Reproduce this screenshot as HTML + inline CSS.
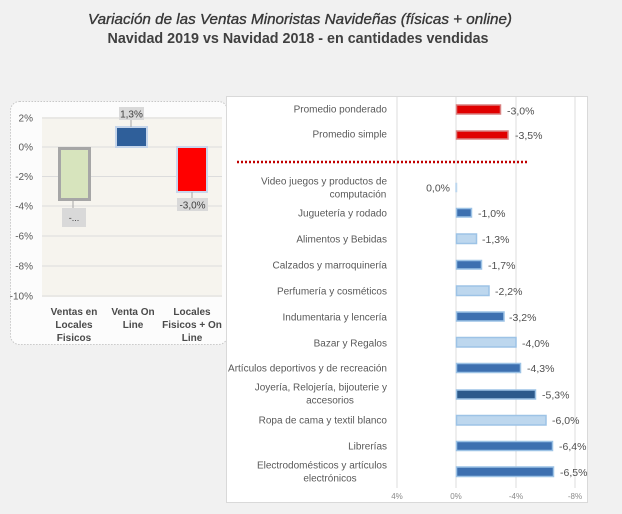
<!DOCTYPE html>
<html><head><meta charset="utf-8"><style>
html,body{margin:0;padding:0;background:#f1f1f1;}
svg{display:block;}
text{font-family:"Liberation Sans",sans-serif;}
</style></head><body>
<svg width="622" height="514" viewBox="0 0 622 514" xmlns="http://www.w3.org/2000/svg">
<rect width="622" height="514" fill="#f1f1f1"/>
<!-- Titles -->
<text x="300" y="24" text-anchor="middle" font-size="15" font-style="italic" fill="#383838" stroke="#383838" stroke-width="0.35" textLength="424" lengthAdjust="spacingAndGlyphs">Variación de las Ventas Minoristas Navideñas (físicas + online)</text>
<text x="298" y="43" text-anchor="middle" font-size="15" font-weight="bold" fill="#404040" textLength="381" lengthAdjust="spacingAndGlyphs">Navidad 2019 vs Navidad 2018 - en cantidades vendidas</text>

<!-- Left panel -->
<rect x="10.5" y="101.5" width="217" height="243" rx="9" ry="9" fill="#fcfcfc" stroke="#c8c8c8" stroke-dasharray="1.5,1.5"/>
<rect x="42" y="117" width="180" height="180" fill="#f6f4ee"/>
<g stroke="#dcdcdc" stroke-width="1">
<line x1="42" y1="118" x2="222" y2="118"/>
<line x1="42" y1="147" x2="222" y2="147"/>
<line x1="42" y1="176.5" x2="222" y2="176.5"/>
<line x1="42" y1="206" x2="222" y2="206"/>
<line x1="42" y1="236" x2="222" y2="236"/>
<line x1="42" y1="266" x2="222" y2="266"/>
<line x1="42" y1="296" x2="222" y2="296"/>
</g>
<g font-size="10" fill="#595959" text-anchor="end">
<text x="33" y="121.5">2%</text>
<text x="33" y="150.5">0%</text>
<text x="33" y="180">-2%</text>
<text x="33" y="209.5">-4%</text>
<text x="33" y="239.5">-6%</text>
<text x="33" y="269.5">-8%</text>
<text x="33" y="299.5">-10%</text>
</g>
<!-- bar 1 -->
<rect x="59.5" y="148.5" width="30" height="51" fill="#d7e4bd" stroke="#a6a6a6" stroke-width="3"/>
<line x1="73" y1="201" x2="73" y2="208" stroke="#a6a6a6"/>
<rect x="62" y="208" width="24" height="19" fill="#d9d9d9"/>
<text x="74" y="221" text-anchor="middle" font-size="9" fill="#404040">-...</text>
<!-- bar 2 -->
<rect x="116" y="127" width="31" height="20" fill="#2f5f9a" stroke="#c5d5ea" stroke-width="2"/>
<line x1="131" y1="120" x2="131" y2="127" stroke="#a6a6a6"/>
<rect x="119" y="107" width="25" height="13" fill="#d9d9d9"/>
<text x="131.5" y="117.5" text-anchor="middle" font-size="10" fill="#404040">1,3%</text>
<!-- bar 3 -->
<rect x="177" y="147" width="30" height="45" fill="#ff0000" stroke="#c9d6ec" stroke-width="2"/>
<line x1="192" y1="192" x2="192" y2="198" stroke="#a6a6a6"/>
<rect x="177" y="198" width="31" height="13" fill="#d9d9d9"/>
<text x="192.5" y="208.5" text-anchor="middle" font-size="10" fill="#404040">-3,0%</text>
<!-- x labels -->
<g font-size="10" font-weight="bold" fill="#4a4a4a" text-anchor="middle">
<text x="74" y="315">Ventas en</text>
<text x="74" y="328">Locales</text>
<text x="74" y="341">Fisicos</text>
<text x="133" y="315">Venta On</text>
<text x="133" y="328">Line</text>
<text x="192" y="315">Locales</text>
<text x="192" y="328">Fisicos + On</text>
<text x="192" y="341">Line</text>
</g>

<!-- Right panel -->
<rect x="226.5" y="96.5" width="361" height="406" fill="#ffffff" stroke="#d9d9d9"/>
<g stroke="#dcdcdc" stroke-width="1">
<line x1="397" y1="97" x2="397" y2="488"/>
<line x1="456" y1="97" x2="456" y2="488"/>
<line x1="516" y1="97" x2="516" y2="488"/>
<line x1="575" y1="97" x2="575" y2="488"/>
</g>
<g font-size="8" fill="#8a8a8a" text-anchor="middle">
<text x="397" y="499">4%</text>
<text x="456" y="499">0%</text>
<text x="516" y="499">-4%</text>
<text x="575" y="499">-8%</text>
</g>
<line x1="237" y1="162" x2="527" y2="162" stroke="#c00000" stroke-width="2.5" stroke-dasharray="2,2"/>

<!-- category labels -->
<g font-size="10" fill="#595959" text-anchor="end">
<text x="387" y="112.5">Promedio ponderado</text>
<text x="387" y="137.5">Promedio simple</text>
<text x="387" y="184.5">Video juegos y productos de</text>
<text x="358" y="197.5" text-anchor="middle">computación</text>
<text x="387" y="216.5">Juguetería y rodado</text>
<text x="387" y="242.5">Alimentos y Bebidas</text>
<text x="387" y="268.5">Calzados y marroquinería</text>
<text x="387" y="294.5">Perfumería y cosméticos</text>
<text x="387" y="320.5">Indumentaria y lencería</text>
<text x="387" y="346.5">Bazar y Regalos</text>
<text x="387" y="371.5">Artículos deportivos y de recreación</text>
<text x="387" y="390.5">Joyería, Relojería, bijouterie y</text>
<text x="330" y="403.5" text-anchor="middle">accesorios</text>
<text x="387" y="423.5">Ropa de cama y textil blanco</text>
<text x="387" y="449.5">Librerías</text>
<text x="387" y="468.5">Electrodomésticos y artículos</text>
<text x="330" y="481.5" text-anchor="middle">electrónicos</text>
</g>

<!-- bars -->
<g stroke-width="1.5">
<rect x="456.5" y="105" width="44" height="9" fill="#e00000" stroke="#d98080"/>
<rect x="456.5" y="131" width="51.5" height="8" fill="#e00000" stroke="#d98080"/>
<rect x="455.5" y="183" width="1.5" height="9" fill="#bdd7ee" stroke="#bdd7ee" stroke-width="0.5"/>
<rect x="456.5" y="208.5" width="15" height="8.5" fill="#3d70b0" stroke="#9cc2e5"/>
<rect x="456.5" y="234" width="20" height="9.5" fill="#bdd7ee" stroke="#9dc3e6"/>
<rect x="456.5" y="260.5" width="25" height="8.5" fill="#3d70b0" stroke="#9cc2e5"/>
<rect x="456.5" y="286" width="32.5" height="9.5" fill="#bdd7ee" stroke="#9dc3e6"/>
<rect x="456.5" y="312" width="47.5" height="9" fill="#3d70b0" stroke="#9cc2e5"/>
<rect x="456.5" y="337.5" width="59.5" height="9.5" fill="#bdd7ee" stroke="#9dc3e6"/>
<rect x="456.5" y="363.5" width="64" height="9" fill="#3d70b0" stroke="#9cc2e5"/>
<rect x="456.5" y="390" width="79" height="9" fill="#2c5a8c" stroke="#9cc2e5"/>
<rect x="456.5" y="415.5" width="89.5" height="9.5" fill="#bdd7ee" stroke="#9dc3e6"/>
<rect x="456.5" y="441.5" width="96" height="9" fill="#3d70b0" stroke="#9cc2e5"/>
<rect x="456.5" y="467" width="97" height="9.5" fill="#3d70b0" stroke="#9cc2e5"/>
</g>

<!-- value labels -->
<g font-size="10.5" fill="#505050">
<text x="507" y="114.5">-3,0%</text>
<text x="515" y="139">-3,5%</text>
<text x="450" y="191.5" text-anchor="end">0,0%</text>
<text x="478" y="217">-1,0%</text>
<text x="482" y="243">-1,3%</text>
<text x="488" y="269">-1,7%</text>
<text x="495" y="295">-2,2%</text>
<text x="509" y="321">-3,2%</text>
<text x="522" y="347">-4,0%</text>
<text x="527" y="372">-4,3%</text>
<text x="542" y="398.5">-5,3%</text>
<text x="552" y="424">-6,0%</text>
<text x="559" y="450">-6,4%</text>
<text x="560" y="476">-6,5%</text>
</g>
</svg>
</body></html>
